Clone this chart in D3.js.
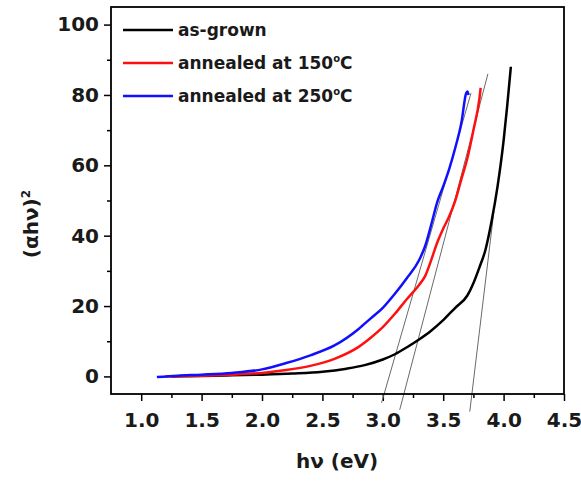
<!DOCTYPE html>
<html>
<head>
<meta charset="utf-8">
<script src="https://cdn.jsdelivr.net/npm/d3@7"></script>
<style>
  body { margin: 0; background: #fff; }
  svg { display: block; }
  text { font-family: "DejaVu Sans", sans-serif; font-weight: bold; fill: #1a1a1a; }
</style>
</head>
<body>
<div id="chart"></div>
<script>
// series
const grownX = [1.25, 1.5, 1.75, 2.0, 2.25, 2.5, 2.7, 2.85, 3.0, 3.1, 3.2, 3.3, 3.4, 3.5, 3.6, 3.7, 3.75, 3.8, 3.85, 3.9, 3.95, 4.0, 4.03, 4.06];
const grownY = [0, 0.1, 0.3, 0.5, 0.8, 1.3, 2.2, 3.2, 4.8, 6.3, 8.3, 10.5, 13, 16, 19.5, 23, 26.5, 31, 36, 44, 54, 67, 77, 88];

const a150X = [1.2, 1.5, 1.75, 2.0, 2.2, 2.4, 2.6, 2.8, 2.9, 3.0, 3.1, 3.2, 3.3, 3.35, 3.4, 3.45, 3.5, 3.55, 3.6, 3.65, 3.7, 3.75, 3.8, 3.81];
const a150Y = [0, 0.2, 0.5, 1.0, 1.8, 3.0, 5.0, 8.4, 11, 14, 17.8, 22, 26, 28.5, 33, 38, 42, 45.5, 50, 56, 62, 70, 79, 82];

const a250X = [1.13, 1.3, 1.5, 1.75, 2.0, 2.2, 2.4, 2.6, 2.8, 2.9, 3.0, 3.1, 3.2, 3.3, 3.35, 3.4, 3.45, 3.5, 3.55, 3.6, 3.65, 3.69, 3.7, 3.71];
const a250Y = [-0.2, 0.2, 0.5, 1.0, 2.0, 3.8, 6.0, 8.8, 13.5, 16.5, 19.5, 23.5, 28, 33, 37, 43, 49.5, 54, 59, 65, 72, 80.5, 81, 80];

// linear fits drawn as thin grey lines
const fitX = [[2.99, 3.73], [3.14, 3.87], [3.72, 3.92]];
const fitY = [[-7.5, 80.5], [-9.5, 86], [-10, 47]];

const xTicks = [1.0, 1.5, 2.0, 2.5, 3.0, 3.5, 4.0, 4.5];
const xMinor = [1.25, 1.75, 2.25, 2.75, 3.25, 3.75, 4.25];
const yTicks = [0, 20, 40, 60, 80, 100];
const yMinor = [10, 30, 50, 70, 90];

const seriesNames = ["as-grown", "annealed at 150", "annealed at 250"];
const seriesColors = ["#000000", "#ff1010", "#1010ff"];

const margin = {top: 7, right: 17, bottom: 91, left: 111},
    width = 581 - margin.left - margin.right,
    height = 485 - margin.top - margin.bottom;

const svg = d3.select("#chart")
    .append("svg")
    .attr("width", 581)
    .attr("height", 485)
    .append("g")
    .attr("transform", `translate(${margin.left},${margin.top})`);

const x = d3.scaleLinear().domain([0.75, 4.5]).range([0, width]);
const y = d3.scaleLinear().domain([-5, 105]).range([height, 0]);

// minor ticks
svg.append("g")
    .attr("transform", `translate(0,${height})`)
    .call(d3.axisBottom(x).tickValues(xMinor).tickSize(4).tickSizeOuter(0).tickFormat(""))
    .call(g => g.select(".domain").remove());
svg.append("g")
    .call(d3.axisLeft(y).tickValues(yMinor).tickSize(4).tickSizeOuter(0).tickFormat(""))
    .call(g => g.select(".domain").remove());

// major ticks
const xAxis = svg.append("g")
    .attr("transform", `translate(0,${height})`)
    .call(d3.axisBottom(x).tickValues(xTicks).tickSize(7).tickPadding(12).tickSizeOuter(0).tickFormat(d3.format(".1f")));
xAxis.select(".domain").remove();
xAxis.selectAll("text").style("font-size", "20px").attr("fill", "#1a1a1a");

const yAxis = svg.append("g")
    .call(d3.axisLeft(y).tickValues(yTicks).tickSize(7).tickPadding(5).tickSizeOuter(0));
yAxis.select(".domain").remove();
yAxis.selectAll("text").style("font-size", "20px").attr("fill", "#1a1a1a");

svg.selectAll(".tick line").attr("stroke", "#000").attr("stroke-width", 1.5);

// fit lines
const fitLine = d3.line().x(d => x(d[0])).y(d => y(d[1]));
fitX.forEach((xs, i) => {
    svg.append("path")
        .attr("d", fitLine(xs.map((v, j) => [v, fitY[i][j]])))
        .attr("fill", "none")
        .attr("stroke", "#6a6a6a")
        .attr("stroke-width", 1);
});

// curves
const curve = d3.line().x(d => x(d[0])).y(d => y(d[1])).curve(d3.curveMonotoneX);
const allX = [grownX, a150X, a250X];
const allY = [grownY, a150Y, a250Y];
allX.forEach((xs, i) => {
    svg.append("path")
        .attr("d", curve(xs.map((v, j) => [v, allY[i][j]])))
        .attr("fill", "none")
        .attr("stroke", seriesColors[i])
        .attr("stroke-width", 2.5)
        .attr("stroke-linejoin", "round");
});

// frame
svg.append("rect")
    .attr("width", width)
    .attr("height", height)
    .attr("fill", "none")
    .attr("stroke", "#000")
    .attr("stroke-width", 1.8);

// legend
const legend = svg.append("g").attr("transform", "translate(12,23)");
seriesNames.forEach((name, i) => {
    const row = legend.append("g").attr("transform", `translate(0,${i * 33})`);
    row.append("line")
        .attr("x1", 0).attr("x2", 50)
        .attr("stroke", seriesColors[i])
        .attr("stroke-width", 2.5);
    const t = row.append("text")
        .attr("x", 55)
        .attr("y", 6)
        .style("font-size", "17px")
        .text(name);
    if (i > 0) {
        t.append("tspan").attr("dy", -7).style("font-size", "10px").text("o");
        t.append("tspan").attr("dy", 7).text("C");
    }
});

// axis titles
svg.append("text")
    .attr("x", 337 - margin.left)
    .attr("y", 468 - margin.top)
    .attr("text-anchor", "middle")
    .style("font-size", "20px")
    .text("hν (eV)");

const yt = svg.append("text")
    .attr("transform", `translate(${38 - margin.left},${224 - margin.top}) rotate(-90)`)
    .attr("text-anchor", "middle")
    .style("font-size", "20px")
    .text("(αhν)");
yt.append("tspan").attr("dy", -8).style("font-size", "12px").text("2");
</script>
</body>
</html>
